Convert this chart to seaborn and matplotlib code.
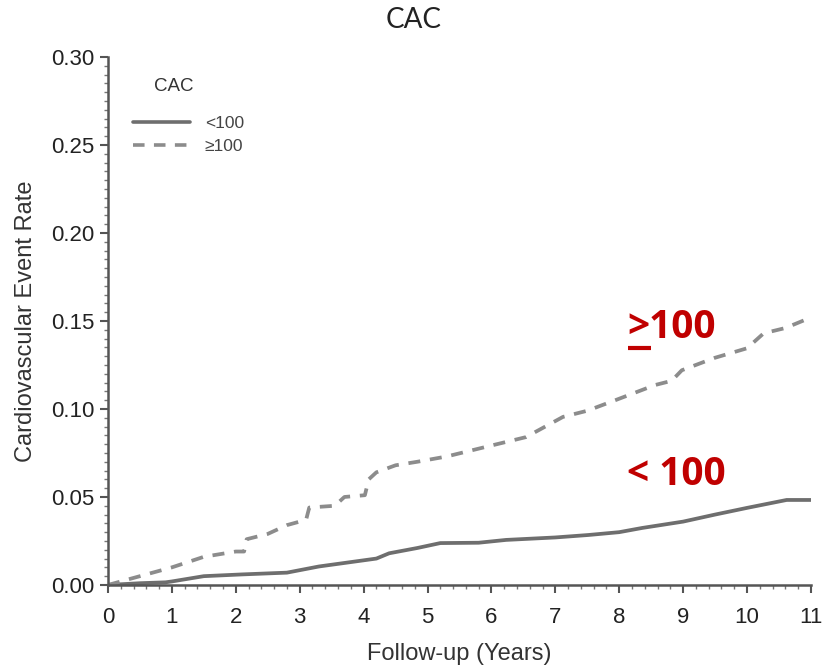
import numpy as np
import pandas as pd
import matplotlib
matplotlib.use("Agg")
import matplotlib.pyplot as plt
import seaborn as sns
from matplotlib.ticker import AutoMinorLocator

# Data (cumulative event rate curves)
lo_years = [0, 0.5, 0.9, 1.0, 1.5, 2.1, 2.8, 3.3, 3.7, 4.2, 4.4, 4.84, 5.2, 5.8, 6.23, 7.0, 7.52, 8.0, 8.36, 9.0, 9.5, 10.0, 10.62, 11.0]
lo_rate  = [0, 0.001, 0.0015, 0.002, 0.005, 0.006, 0.007, 0.0105, 0.0125, 0.015, 0.018, 0.021, 0.0238, 0.024, 0.0256, 0.027, 0.0284, 0.030, 0.0324, 0.036, 0.040, 0.0438, 0.0483, 0.0483]

hi_years = [0, 0.5, 1.0, 1.5, 2.0, 2.13, 2.17, 2.5, 2.8, 3.1, 3.15, 3.55, 3.7, 4.02, 4.08, 4.2, 4.5, 4.84, 5.3, 6.03, 6.54, 7.12, 7.5, 7.94, 8.56, 8.82, 8.98, 9.49, 10.0, 10.26, 10.6, 11.0]
hi_rate  = [0, 0.005, 0.010, 0.016, 0.019, 0.019, 0.026, 0.029, 0.034, 0.037, 0.044, 0.045, 0.050, 0.051, 0.060, 0.064, 0.068, 0.070, 0.073, 0.0795, 0.084, 0.0955, 0.099, 0.105, 0.1136, 0.116, 0.122, 0.129, 0.1345, 0.143, 0.146, 0.152]

groups = ["<100", "≥100"]
xticks = list(range(0, 12))
yticks = [0.00, 0.05, 0.10, 0.15, 0.20, 0.25, 0.30]

df = pd.concat([
    pd.DataFrame({"Years": lo_years, "Rate": lo_rate, "CAC": groups[0]}),
    pd.DataFrame({"Years": hi_years, "Rate": hi_rate, "CAC": groups[1]}),
])

sns.set_style("ticks")
plt.rcParams['font.family'] = ['Liberation Sans', 'DejaVu Sans']

fig = plt.figure(figsize=(8.28, 6.68), dpi=100)
ax = fig.add_axes([0.1304, 0.1243, 0.849, 0.7904])

sns.lineplot(data=df, x="Years", y="Rate", hue="CAC", style="CAC",
             palette={groups[0]: "#6e6e6e", groups[1]: "#8c8c8c"},
             dashes={groups[0]: "", groups[1]: (3.2, 2.6)},
             estimator=None, sort=False, linewidth=2.7, ax=ax, legend=True)

ax.set_xlim(0, 11)
ax.set_ylim(0, 0.30)
ax.set_xticks(xticks)
ax.set_yticks(yticks)
ax.set_yticklabels([f"{v:.2f}" for v in yticks])
ax.xaxis.set_minor_locator(AutoMinorLocator(5))
ax.yaxis.set_minor_locator(AutoMinorLocator(10))
ax.tick_params(axis="both", which="major", labelsize=16, length=6, width=1.5,
               color="#555555", labelcolor="#222222")
ax.tick_params(axis="x", which="major", pad=10)
ax.tick_params(axis="y", which="major", pad=4)
ax.tick_params(axis="both", which="minor", length=3, width=1, color="#777777")
for s in ["left", "bottom"]:
    ax.spines[s].set_color("#555555")
    ax.spines[s].set_linewidth(1.8)
sns.despine(ax=ax)

ax.set_xlabel("Follow-up (Years)", fontsize=17, color="#333333", labelpad=11)
ax.set_ylabel("Cardiovascular Event Rate", fontsize=17, color="#333333", labelpad=10)
fig.text(0.5, 1 - 20 / 668, "CAC", fontsize=20, color="#222222",
         ha="center", va="center", family=["Lato", "DejaVu Sans"])

leg = ax.legend(title="    CAC", loc="upper left", bbox_to_anchor=(0.013, 0.99),
                frameon=False, fontsize=12.5, title_fontsize=13.5,
                handlelength=3.3, handletextpad=0.85, labelspacing=0.45)
leg._legend_box.align = "left"
leg._legend_box.sep = 15
for t in leg.get_texts():
    t.set_color("#444444")
leg.get_title().set_color("#333333")
for h in leg.get_lines():
    h.set_linewidth(2.6)

red = "#C00000"
ax.text(8.12, 0.1465, ">100", fontsize=28, fontweight="bold", color=red,
        family=["Open Sans", "DejaVu Sans"], va="center", ha="left")
ax.plot([8.13, 8.49], [0.1345, 0.1345], color=red, linewidth=3, solid_capstyle="butt")
ax.text(8.12, 0.0625, "< 100", fontsize=28, fontweight="bold", color=red,
        family=["Open Sans", "DejaVu Sans"], va="center", ha="left")

fig.savefig("out.png", dpi=100)
